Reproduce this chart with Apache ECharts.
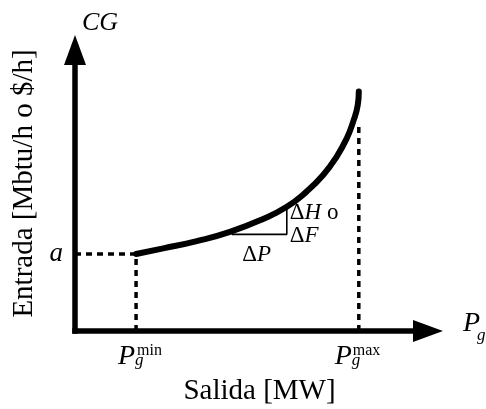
<!DOCTYPE html>
<html>
<head>
<meta charset="utf-8">
<script src="https://cdn.jsdelivr.net/npm/echarts@6/dist/echarts.min.js"></script>
<style>html,body{margin:0;padding:0;background:#fff}#c{width:486px;height:409px}</style>
</head>
<body>
<div id="c"></div>
<script>
// Normalised axis range (0..100)
const axisMin = 0, axisMax = 100;
// Input-output curve (x: output, y: input)
const curveX = [17.3, 25.0, 34.5, 43.9, 53.3, 60.0, 65.6, 70.3, 74.1, 77.0, 78.8, 80.1, 80.4];
const curveY = [27.4, 29.4, 32.0, 35.3, 39.9, 44.2, 49.6, 55.5, 62.0, 68.6, 74.5, 80.4, 85.2];
// Key values
const pMin = 17.3;
const pMax = 80.4;
const aVal = 27.4;
const pMaxDashTop = 72.7;
// Slope triangle
const triX = [44.4, 60.0];
const triY = [34.4, 44.2];
// Texts
const yAxisTitle = 'Entrada [Mbtu/h o $/h]';
const xAxisTitle = 'Salida [MW]';
const yAxisSymbol = 'CG';
const aLabel = 'a';

const FONT = '"Liberation Serif", "Times New Roman", serif';
const dashStyle = {color: '#000', width: 3.5, type: [6, 5]};

function lbl(value, text, offset, size, italic, align) {
  return {
    value: value,
    label: {
      show: true, formatter: text, offset: offset, align: align || 'left',
      verticalAlign: 'middle', fontFamily: FONT, fontSize: size,
      fontStyle: italic ? 'italic' : 'normal', color: '#000', opacity: 1
    }
  };
}
function rl(value, text, offset, align) {
  return {
    value: value,
    label: {
      show: true, formatter: text, offset: offset, align: align || 'left',
      verticalAlign: 'middle', color: '#000', opacity: 1,
      rich: {
        d: {fontFamily: FONT, fontSize: 23, color: '#000'},
        i: {fontFamily: FONT, fontSize: 23, fontStyle: 'italic', color: '#000'}
      }
    }
  };
}

const labelData = [
  lbl([axisMin, axisMax], yAxisSymbol, [7, -27], 26, true),
  lbl([pMin, axisMin], 'P', [-18, 26], 28, true),
  lbl([pMin, axisMin], 'min', [1, 20], 16, false),
  lbl([pMin, axisMin], 'g', [-1, 30], 17, true),
  lbl([pMax, axisMin], 'P', [-24, 26], 28, true),
  lbl([pMax, axisMin], 'max', [-6, 20], 16, false),
  lbl([pMax, axisMin], 'g', [-7, 30], 17, true),
  lbl([axisMax, axisMin], 'P', [35, -7], 28, true),
  lbl([axisMax, axisMin], 'g', [49, 5], 17, true),
  rl([triX[1], triY[1]], '{d|Δ}{i|H}{d| o}', [3, 6]),
  rl([triX[1], triY[0]], '{d|Δ}{i|F}', [3, 2]),
  rl([triX[0], triY[0]], '{d|Δ}{i|P}', [25, 21], 'center')
];

const chart = echarts.init(document.getElementById('c'), null, {renderer: 'canvas'});
chart.setOption({
  animation: false,
  backgroundColor: '#fff',
  grid: {left: 75, right: 58, top: 50, bottom: 78, containLabel: false, outerBoundsMode: 'none'},
  xAxis: {
    type: 'value', min: axisMin, max: axisMax,
    name: xAxisTitle, nameLocation: 'middle', nameGap: 46,
    nameTextStyle: {fontFamily: FONT, fontSize: 29, color: '#000', padding: [0, 0, 0, 16]},
    axisLine: {show: true, onZero: true, symbol: ['none', 'triangle'], symbolSize: [22, 30],
      lineStyle: {color: '#000', width: 5.5, cap: 'square'}},
    axisTick: {show: false}, axisLabel: {show: false}, splitLine: {show: false}
  },
  yAxis: {
    type: 'value', min: axisMin, max: axisMax,
    name: yAxisTitle, nameLocation: 'middle', nameGap: 36, nameRotate: 90,
    nameTextStyle: {fontFamily: FONT, fontSize: 29, color: '#000', padding: [0, 0, 0, 14]},
    axisLine: {show: true, onZero: true, symbol: ['none', 'triangle'], symbolSize: [22, 30],
      lineStyle: {color: '#000', width: 5.5, cap: 'square'}},
    axisTick: {show: false},
    axisLabel: {show: true, customValues: [aVal], formatter: function () { return aLabel; },
      margin: 12, fontFamily: FONT, fontSize: 27, fontStyle: 'italic', color: '#000'},
    splitLine: {show: false}
  },
  series: [
    {type: 'line', name: 'aLine', data: [[axisMin, aVal], [pMin, aVal]], showSymbol: false,
      lineStyle: dashStyle, silent: true, z: 2},
    {type: 'line', name: 'pMinLine', data: [[pMin, axisMin], [pMin, aVal]], showSymbol: false,
      lineStyle: dashStyle, silent: true, z: 2},
    {type: 'line', name: 'pMaxLine', data: [[pMax, axisMin], [pMax, pMaxDashTop]], showSymbol: false,
      lineStyle: dashStyle, silent: true, z: 2},
    {type: 'line', name: 'triangle', data: [[triX[0], triY[0]], [triX[1], triY[0]], [triX[1], triY[1]]],
      showSymbol: false, lineStyle: {color: '#000', width: 1.6}, silent: true, z: 3},
    {type: 'line', name: 'curve', data: curveX.map((x, i) => [x, curveY[i]]), smooth: 0.5,
      showSymbol: false, lineStyle: {color: '#000', width: 6, cap: 'round', join: 'round'}, silent: true, z: 4},
    {type: 'scatter', name: 'labels', data: labelData, symbolSize: 0, itemStyle: {opacity: 1},
      silent: true, z: 5}
  ]
});
</script>
</body>
</html>
